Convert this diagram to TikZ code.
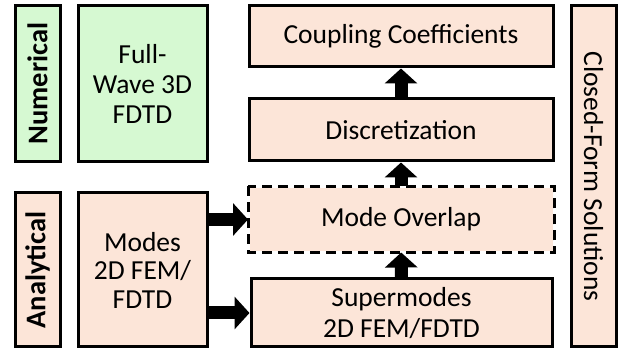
\documentclass[tikz,border=0pt]{standalone}
\usepackage{fontspec}
\setmainfont{Carlito}
\usetikzlibrary{arrows.meta}

\definecolor{numgreen}{RGB}{214,249,210}
\definecolor{anapeach}{RGB}{252,229,216}

\tikzset{
  box/.style={draw=black, line width=3pt, inner sep=0pt, align=center,
    font=\fontsize{27.5}{30}\selectfont},
  numbox/.style={box, fill=numgreen},
  anabox/.style={box, fill=anapeach},
  bigarrow/.style={draw=black, line width=13pt, -{Triangle[width=32pt,length=15pt]}},
}

\begin{document}
\begin{tikzpicture}[x=1pt,y=-1pt]
\useasboundingbox (0,0) rectangle (625,352);

% numerical column
\node[numbox, rotate=90, minimum width=156pt, minimum height=45pt,
  font=\fontsize{28.5}{30}\selectfont\bfseries] (num) at (37.5,83.5) {Numerical};
\node[numbox, minimum width=129pt, minimum height=156pt] (fullwave) at (142.5,84) {Full-\\Wave 3D\\FDTD};

% analytical column
\node[anabox, rotate=90, minimum width=154pt, minimum height=45pt,
  font=\fontsize{28.5}{30}\selectfont\bfseries] (ana) at (37.5,270) {Analytical};
\node[anabox, minimum width=129pt, minimum height=154pt,
  font=\fontsize{27.5}{28.5}\selectfont] (modes) at (142.5,270) {Modes\\2D FEM/\\FDTD};

% steps to the coupling coefficients
\node[anabox, minimum width=304pt, minimum height=61pt] (coupling) at (401,36.5) {Coupling Coefficients};
\node[anabox, minimum width=304pt, minimum height=62pt] (discr) at (401,130) {Discretization};
\node[anabox, draw=none, minimum width=303pt, minimum height=63pt] (overlap) at (401,219.5) {Mode Overlap};
\draw[line width=3pt, dash pattern=on 10pt off 6pt] (overlap.north west) rectangle (overlap.south east);
\node[anabox, minimum width=301pt, minimum height=68pt,
  font=\fontsize{27.5}{31}\selectfont] (super) at (401.5,313) {Supermodes\\2D FEM/FDTD};

\node[anabox, rotate=-90, minimum width=341pt, minimum height=45pt] (closed) at (593.5,176.5) {Closed-Form Solutions};

% arrows
\draw[bigarrow] (discr) -- (coupling);
\draw[bigarrow] (overlap) -- (discr);
\draw[bigarrow] (super) -- (overlap);
\draw[bigarrow] (modes.east |- overlap.west) -- (overlap.west);
\draw[bigarrow] (modes.east |- super.west) -- (super.west);
\end{tikzpicture}
\end{document}
